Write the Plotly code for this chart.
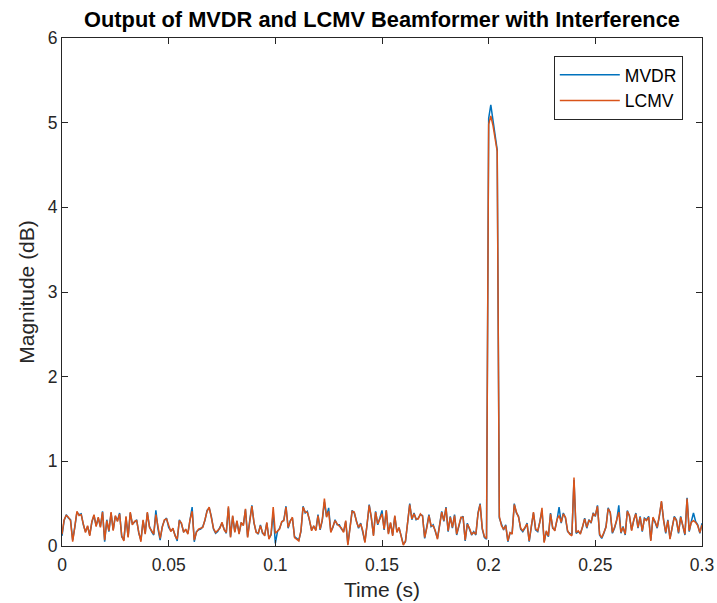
import plotly.graph_objects as go

fs = 1000
n_samples = 301
time_s = [i / fs for i in range(n_samples)]

mvdr = [
    0.12, 0.30, 0.37, 0.33, 0.31, 0.07, 0.22, 0.40, 0.37, 0.38,
    0.25, 0.17, 0.23, 0.13, 0.28, 0.36, 0.24, 0.33, 0.23, 0.41,
    0.05, 0.31, 0.17, 0.39, 0.19, 0.35, 0.30, 0.39, 0.11, 0.07,
    0.34, 0.11, 0.39, 0.26, 0.28, 0.31, 0.15, 0.07, 0.30, 0.15,
    0.39, 0.23, 0.17, 0.13, 0.42, 0.20, 0.07, 0.23, 0.30, 0.33,
    0.22, 0.18, 0.20, 0.13, 0.06, 0.31, 0.26, 0.17, 0.19, 0.15,
    0.30, 0.46, 0.05, 0.17, 0.19, 0.20, 0.23, 0.30, 0.42, 0.45,
    0.35, 0.20, 0.15, 0.17, 0.22, 0.27, 0.20, 0.15, 0.45, 0.11,
    0.35, 0.17, 0.29, 0.15, 0.27, 0.25, 0.43, 0.11, 0.30, 0.48,
    0.27, 0.17, 0.14, 0.25, 0.15, 0.13, 0.27, 0.09, 0.13, 0.40,
    0.03, 0.17, 0.21, 0.28, 0.31, 0.47, 0.21, 0.30, 0.33, 0.11,
    0.09, 0.07, 0.17, 0.47, 0.39, 0.41, 0.30, 0.19, 0.23, 0.19,
    0.37, 0.19, 0.30, 0.52, 0.35, 0.45, 0.17, 0.22, 0.31, 0.25,
    0.25, 0.20, 0.17, 0.29, 0.02, 0.21, 0.42, 0.39, 0.30, 0.21,
    0.27, 0.17, 0.05, 0.25, 0.49, 0.33, 0.13, 0.41, 0.25, 0.33,
    0.42, 0.19, 0.42, 0.15, 0.27, 0.13, 0.35, 0.17, 0.21, 0.12,
    0.02, 0.05, 0.25, 0.50, 0.31, 0.39, 0.31, 0.33, 0.37, 0.36,
    0.09, 0.22, 0.37, 0.23, 0.25, 0.17, 0.09, 0.25, 0.41, 0.29,
    0.46, 0.17, 0.35, 0.21, 0.37, 0.13, 0.25, 0.33, 0.35, 0.06,
    0.27, 0.20, 0.13, 0.17, 0.13, 0.39, 0.50, 0.20, 0.10, 0.08,
    5.05, 5.21, 5.02, 4.86, 4.68, 0.33, 0.25, 0.19, 0.25, 0.05,
    0.15, 0.15, 0.50, 0.39, 0.35, 0.20, 0.17, 0.21, 0.27, 0.05,
    0.23, 0.39, 0.19, 0.17, 0.29, 0.42, 0.05, 0.17, 0.11, 0.39,
    0.21, 0.19, 0.30, 0.46, 0.27, 0.39, 0.33, 0.17, 0.15, 0.13,
    0.78, 0.15, 0.17, 0.15, 0.22, 0.33, 0.21, 0.31, 0.27, 0.39,
    0.35, 0.48, 0.13, 0.09, 0.15, 0.23, 0.45, 0.39, 0.15, 0.21,
    0.30, 0.48, 0.15, 0.23, 0.13, 0.42, 0.35, 0.19, 0.30, 0.39,
    0.21, 0.35, 0.17, 0.33, 0.31, 0.35, 0.07, 0.33, 0.28, 0.21,
    0.35, 0.52, 0.31, 0.15, 0.31, 0.09, 0.21, 0.35, 0.31, 0.15,
    0.35, 0.25, 0.13, 0.57, 0.17, 0.29, 0.39, 0.29, 0.25, 0.15,
    0.27,
]

lcmv = [
    0.14, 0.31, 0.36, 0.34, 0.30, 0.05, 0.23, 0.41, 0.36, 0.37,
    0.26, 0.16, 0.24, 0.12, 0.29, 0.37, 0.23, 0.34, 0.22, 0.40,
    0.07, 0.30, 0.18, 0.40, 0.18, 0.36, 0.29, 0.38, 0.12, 0.06,
    0.35, 0.10, 0.40, 0.25, 0.29, 0.30, 0.16, 0.05, 0.31, 0.14,
    0.40, 0.22, 0.18, 0.14, 0.37, 0.21, 0.09, 0.22, 0.31, 0.32,
    0.23, 0.17, 0.21, 0.12, 0.08, 0.30, 0.27, 0.16, 0.20, 0.14,
    0.31, 0.41, 0.07, 0.16, 0.20, 0.21, 0.22, 0.31, 0.41, 0.46,
    0.34, 0.21, 0.16, 0.18, 0.21, 0.28, 0.19, 0.16, 0.47, 0.10,
    0.36, 0.16, 0.30, 0.14, 0.28, 0.24, 0.44, 0.10, 0.31, 0.47,
    0.28, 0.16, 0.15, 0.24, 0.16, 0.12, 0.28, 0.08, 0.14, 0.46,
    0.15, 0.18, 0.20, 0.29, 0.30, 0.46, 0.22, 0.29, 0.34, 0.10,
    0.08, 0.06, 0.18, 0.46, 0.40, 0.40, 0.31, 0.18, 0.24, 0.18,
    0.36, 0.20, 0.31, 0.56, 0.34, 0.41, 0.16, 0.23, 0.30, 0.26,
    0.24, 0.21, 0.16, 0.30, 0.01, 0.22, 0.41, 0.40, 0.29, 0.22,
    0.26, 0.18, 0.04, 0.26, 0.48, 0.34, 0.12, 0.40, 0.26, 0.32,
    0.38, 0.20, 0.42, 0.14, 0.28, 0.12, 0.36, 0.16, 0.22, 0.11,
    0.01, 0.06, 0.26, 0.49, 0.32, 0.38, 0.32, 0.32, 0.38, 0.35,
    0.10, 0.21, 0.36, 0.24, 0.24, 0.18, 0.08, 0.26, 0.40, 0.30,
    0.45, 0.18, 0.34, 0.22, 0.36, 0.14, 0.24, 0.34, 0.34, 0.07,
    0.26, 0.21, 0.14, 0.16, 0.14, 0.38, 0.49, 0.21, 0.11, 0.09,
    4.98, 5.08, 4.97, 4.82, 4.66, 0.35, 0.24, 0.20, 0.24, 0.06,
    0.16, 0.14, 0.49, 0.40, 0.34, 0.21, 0.18, 0.22, 0.26, 0.06,
    0.22, 0.40, 0.20, 0.18, 0.28, 0.45, 0.04, 0.18, 0.12, 0.38,
    0.22, 0.18, 0.31, 0.36, 0.28, 0.38, 0.34, 0.18, 0.14, 0.12,
    0.81, 0.16, 0.18, 0.14, 0.23, 0.32, 0.22, 0.30, 0.28, 0.38,
    0.36, 0.47, 0.14, 0.10, 0.16, 0.22, 0.44, 0.40, 0.16, 0.22,
    0.31, 0.40, 0.16, 0.22, 0.14, 0.41, 0.36, 0.18, 0.31, 0.38,
    0.22, 0.34, 0.18, 0.32, 0.30, 0.34, 0.06, 0.34, 0.29, 0.22,
    0.36, 0.53, 0.30, 0.16, 0.30, 0.08, 0.22, 0.34, 0.30, 0.16,
    0.34, 0.24, 0.14, 0.56, 0.18, 0.28, 0.30, 0.28, 0.24, 0.16,
    0.25,
]

x_ticks = [0, 0.05, 0.1, 0.15, 0.2, 0.25, 0.3]
x_tick_labels = ["0", "0.05", "0.1", "0.15", "0.2", "0.25", "0.3"]
y_ticks = [0, 1, 2, 3, 4, 5, 6]

font_family = "Liberation Sans, Arial, Helvetica, sans-serif"
axis_color = "#262626"

fig = go.Figure()
fig.add_trace(go.Scatter(x=time_s, y=mvdr, mode="lines", name="MVDR",
                         line=dict(color="#0072BD", width=1.5)))
fig.add_trace(go.Scatter(x=time_s, y=lcmv, mode="lines", name="LCMV",
                         line=dict(color="#D95319", width=1.5)))

axis_common = dict(
    showline=True, linecolor=axis_color, linewidth=1, mirror="ticks",
    ticks="inside", ticklen=6, tickwidth=1, tickcolor=axis_color,
    showgrid=False, zeroline=False, automargin=False,
    tickfont=dict(family=font_family, size=17.5, color=axis_color),
)

fig.update_layout(
    width=717, height=603,
    margin=dict(l=62, r=15, t=38, b=57),
    paper_bgcolor="white", plot_bgcolor="white",
    title=dict(text="<b>Output of MVDR and LCMV Beamformer with Interference</b>",
               x=382 / 717, xanchor="center", y=1 - 19 / 603, yanchor="middle",
               font=dict(family=font_family, size=21.8, color="black")),
    xaxis=dict(range=[0, 0.3], tickvals=x_ticks, ticktext=x_tick_labels,
               ticklabelstandoff=3,
               title=dict(text="Time (s)", standoff=8,
                          font=dict(family=font_family, size=21, color=axis_color)),
               **axis_common),
    yaxis=dict(range=[0, 6], tickvals=y_ticks,
               title=dict(text="Magnitude (dB)", standoff=7,
                          font=dict(family=font_family, size=21, color=axis_color)),
               **axis_common),
    legend=dict(x=0.970, y=0.9646, xanchor="right", yanchor="top",
                bgcolor="white", bordercolor=axis_color, borderwidth=1,
                font=dict(family=font_family, size=17.5, color="black"),
                itemwidth=60, tracegroupgap=0),
    showlegend=True,
)

fig.write_html("out.html")
